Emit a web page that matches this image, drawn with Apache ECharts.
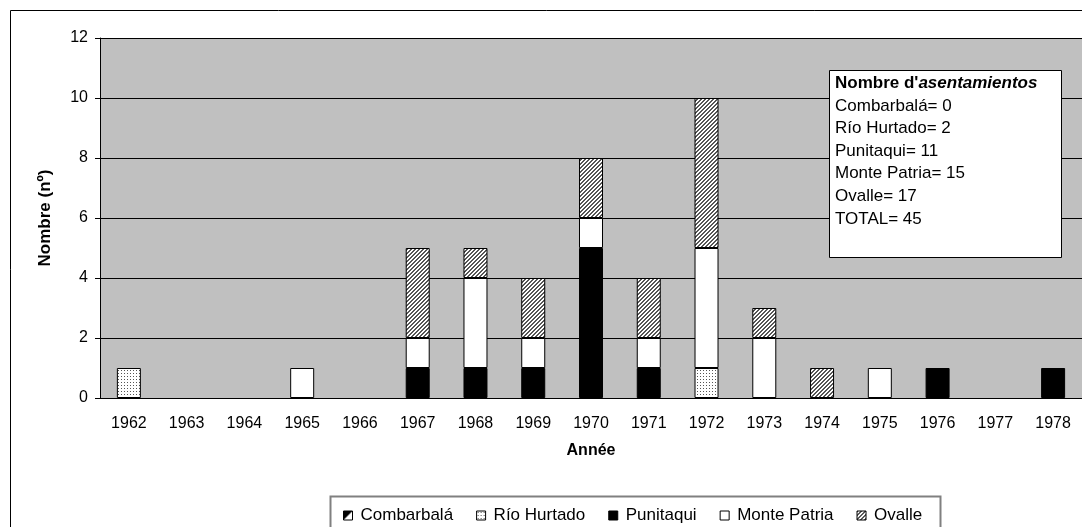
<!DOCTYPE html>
<html>
<head>
<meta charset="utf-8">
<script src="https://cdn.jsdelivr.net/npm/echarts@6/dist/echarts.min.js"></script>
<style>
  html, body { margin: 0; padding: 0; background: #fff; }
  #chart { width: 1082px; height: 527px; }
</style>
</head>
<body>
<div id="chart"></div>
<script>
const years = ['1962', '1963', '1964', '1965', '1966', '1967', '1968', '1969', '1970',
  '1971', '1972', '1973', '1974', '1975', '1976', '1977', '1978'];
const combarbala = [null, null, null, null, null, null, null, null, null, null, null, null, null, null, null, null, null];
const rioHurtado = [1, null, null, null, null, null, null, null, null, null, 1, null, null, null, null, null, null];
const punitaqui = [null, null, null, null, null, 1, 1, 1, 5, 1, null, null, null, null, 1, null, 1];
const montePatria = [null, null, null, 1, null, 1, 3, 1, 1, 1, 4, 2, null, 1, null, null, null];
const ovalle = [null, null, null, null, null, 3, 1, 2, 2, 2, 5, 1, 1, null, null, null, null];
const yTicks = [0, 2, 4, 6, 8, 10, 12];
const boxLines = ['Combarbalá= 0', 'Río Hurtado= 2', 'Punitaqui= 11', 'Monte Patria= 15', 'Ovalle= 17', 'TOTAL= 45'];

const FONT = 'Liberation Sans, Arial, sans-serif';

function makePattern(size, draw) {
  const c = document.createElement('canvas');
  c.width = size;
  c.height = size;
  const ctx = c.getContext('2d');
  draw(ctx, size);
  return { image: c, repeat: 'repeat' };
}

// dotted fill for Río Hurtado
const dots = makePattern(3, (ctx) => {
  ctx.fillStyle = '#ffffff';
  ctx.fillRect(0, 0, 3, 3);
  ctx.fillStyle = '#555555';
  ctx.fillRect(1, 1, 1, 1);
});

// diagonal hatch for Ovalle
const hatch = makePattern(4, (ctx) => {
  ctx.fillStyle = '#ffffff';
  ctx.fillRect(0, 0, 4, 4);
  ctx.fillStyle = '#555555';
  for (let i = 0; i < 4; i++) {
    ctx.fillRect(3 - i, i, 1, 1);
    ctx.fillRect((3 - i + 1) % 4, i, 1, 1);
  }
});

// half black / half white for Combarbalá
const halfTone = makePattern(9, (ctx) => {
  ctx.fillStyle = '#ffffff';
  ctx.fillRect(0, 0, 9, 9);
  ctx.fillStyle = '#000000';
  ctx.beginPath();
  ctx.moveTo(0, 0);
  ctx.lineTo(9, 0);
  ctx.lineTo(0, 9);
  ctx.closePath();
  ctx.fill();
});

function barSeries(name, data, color) {
  return {
    name: name,
    type: 'bar',
    stack: 'total',
    data: data,
    barWidth: 24,
    itemStyle: { color: color, borderColor: '#000', borderWidth: 1 },
    emphasis: { disabled: true }
  };
}

const chart = echarts.init(document.getElementById('chart'));
chart.setOption({
  animation: false,
  backgroundColor: '#ffffff',
  textStyle: { fontFamily: FONT, color: '#000' },
  grid: {
    left: 100, top: 38, width: 986, height: 360,
    show: true, backgroundColor: '#c0c0c0', borderWidth: 0
  },
  legend: {
    left: 338, top: 502,
    itemWidth: 9, itemHeight: 9, itemGap: 23,
    icon: 'rect',
    textStyle: { fontSize: 17, fontFamily: FONT, color: '#000', padding: [0, 0, 0, 3] },
    itemStyle: { borderColor: '#000', borderWidth: 1 },
    data: ['Combarbalá', 'Río Hurtado', 'Punitaqui', 'Monte Patria', 'Ovalle']
  },
  xAxis: {
    type: 'category',
    data: years,
    name: 'Année',
    nameLocation: 'middle',
    nameGap: 45,
    nameTextStyle: { fontSize: 16, fontWeight: 'bold', fontFamily: FONT, color: '#000' },
    axisLine: { lineStyle: { color: '#000', width: 1 } },
    axisTick: { alignWithLabel: false, length: 5, lineStyle: { color: '#000' } },
    axisLabel: { fontSize: 16, fontFamily: FONT, color: '#000', margin: 18, interval: 0 },
    splitLine: { show: false }
  },
  yAxis: {
    type: 'value',
    min: 0, max: 12, interval: 2,
    name: 'Nombre (nº)',
    nameLocation: 'middle',
    nameGap: 46,
    nameTextStyle: { fontSize: 17, fontWeight: 'bold', fontFamily: FONT, color: '#000' },
    axisLine: { show: true, lineStyle: { color: '#000', width: 1 } },
    axisTick: { show: true, length: 5, lineStyle: { color: '#000' } },
    axisLabel: {
      fontSize: 16, fontFamily: FONT, color: '#000', margin: 12,
      formatter: (v) => (yTicks.includes(v) ? String(v) : '')
    },
    splitLine: { show: true, lineStyle: { color: '#000', width: 1 } }
  },
  series: [
    barSeries('Combarbalá', combarbala, halfTone),
    barSeries('Río Hurtado', rioHurtado, dots),
    barSeries('Punitaqui', punitaqui, '#000000'),
    barSeries('Monte Patria', montePatria, '#ffffff'),
    barSeries('Ovalle', ovalle, hatch)
  ],
  graphic: [
    {
      type: 'rect', silent: true, z: -1,
      shape: { x: 10.5, y: 10.5, width: 1100, height: 600 },
      style: { fill: 'none', stroke: '#000', lineWidth: 1 }
    },
    {
      type: 'rect', silent: true, z: -1,
      shape: { x: 330.5, y: 496.5, width: 610, height: 60 },
      style: { fill: '#fff', stroke: '#808080', lineWidth: 2 }
    },
    {
      type: 'rect', silent: true, z: 10,
      shape: { x: 829.5, y: 70.5, width: 232, height: 187 },
      style: { fill: '#fff', stroke: '#000', lineWidth: 1 }
    },
    {
      type: 'text', silent: true, z: 11,
      left: 835, top: 72,
      style: {
        text: '{b|Nombre d\'}{bi|asentamientos}\n' + boxLines.join('\n'),
        font: '17px ' + FONT,
        fill: '#000',
        lineHeight: 22.6,
        rich: {
          b: { fontWeight: 'bold', fontSize: 17, fontFamily: FONT, lineHeight: 22.6 },
          bi: { fontWeight: 'bold', fontStyle: 'italic', fontSize: 17, fontFamily: FONT, lineHeight: 22.6 }
        }
      }
    }
  ]
});
</script>
</body>
</html>
